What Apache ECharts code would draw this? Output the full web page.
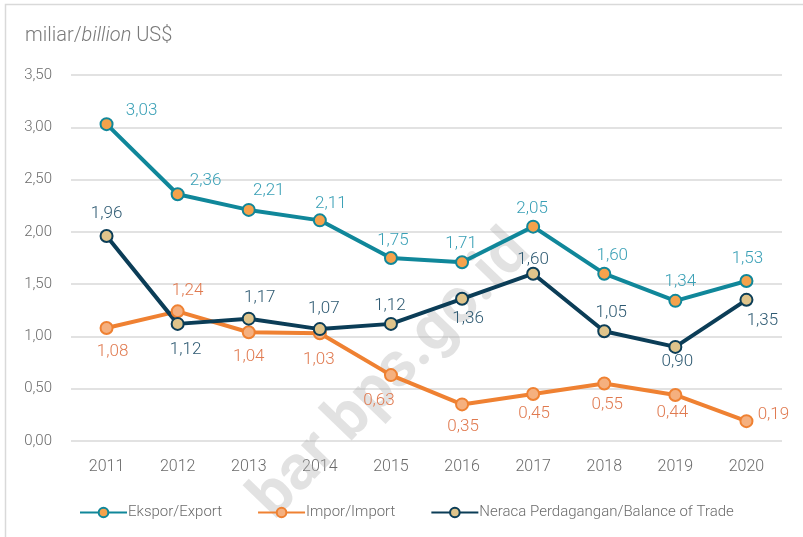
<!DOCTYPE html>
<html>
<head>
<meta charset="utf-8">
<script src="https://cdn.jsdelivr.net/npm/echarts@6/dist/echarts.min.js"></script>
<style>
html,body{margin:0;padding:0;background:#fff;}
#chart{width:803px;height:537px;}
</style>
</head>
<body>
<div id="chart"></div>
<script>
var years = ['2011','2012','2013','2014','2015','2016','2017','2018','2019','2020'];
var ekspor = [3.03, 2.36, 2.21, 2.11, 1.75, 1.71, 2.05, 1.60, 1.34, 1.53];
var impor  = [1.08, 1.24, 1.04, 1.03, 0.63, 0.35, 0.45, 0.55, 0.44, 0.19];
var neraca = [1.96, 1.12, 1.17, 1.07, 1.12, 1.36, 1.60, 1.05, 0.90, 1.35];
var seriesNames = ['Ekspor/Export', 'Impor/Import', 'Neraca Perdagangan/Balance of Trade'];
var yTicks = [0, 0.5, 1, 1.5, 2, 2.5, 3, 3.5];

// label offsets (label centre relative to marker centre), styling only
var eksporLabelOffset = [[35,-13],[28,-13],[20,-19],[11,-17],[2,-17],[-1,-18],[-1,-18],[8,-18],[5,-19],[1,-22]];
var imporLabelOffset  = [[6,24],[10,-21],[0,25],[-1,26],[-12,26],[1,22],[1,20],[3,21],[-3,18],[27,-6]];
var neracaLabelOffset = [[0,-22],[8,26],[11,-21],[4,-20],[-1,-18],[6,20],[0,-14],[7,-18],[2,15],[16,21]];

function fmt(v){ return v.toFixed(2).replace('.', ','); }

function buildData(vals, offs){
  return vals.map(function(v,i){
    return {value: v, label: {offset: offs[i]}};
  });
}

var FONT = 'Roboto';
var chart = echarts.init(document.getElementById('chart'));

function lineSeries(name, vals, offs, lineColor, fillColor, labelColor){
  return {
    name: name,
    type: 'line',
    data: buildData(vals, offs),
    symbol: 'circle',
    symbolSize: 12,
    z: 5,
    lineStyle: {color: lineColor, width: 4},
    itemStyle: {color: fillColor, borderColor: lineColor, borderWidth: 2},
    label: {
      show: true,
      position: 'inside',
      align: 'center',
      verticalAlign: 'middle',
      color: labelColor,
      fontFamily: FONT,
      fontWeight: 300,
      fontSize: 17,
      formatter: function(p){ return fmt(p.value); }
    },
    emphasis: {disabled: true},
    animation: false
  };
}

chart.setOption({
  animation: false,
  grid: {left: 71, right: 21, top: 75, bottom: 96, containLabel: false},
  title: {
    text: '{a|miliar/}{b|billion}{a| US$}',
    left: 20, top: 21,
    textStyle: {
      rich: {
        a: {fontFamily: FONT, fontWeight: 300, fontSize: 20, color: '#7a7a7a'},
        b: {fontFamily: FONT, fontWeight: 300, fontStyle: 'italic', fontSize: 20, color: '#7a7a7a'}
      }
    }
  },
  legend: {
    left: 74, top: 500,
    itemWidth: 47, itemHeight: 12, itemGap: 35,
    data: seriesNames,
    textStyle: {fontFamily: FONT, fontWeight: 300, fontSize: 15, color: '#6b6b6b', padding: [0,0,0,-4]}
  },
  xAxis: {
    type: 'category',
    data: years,
    boundaryGap: true,
    axisLine: {show: false},
    axisTick: {show: false},
    axisLabel: {fontFamily: FONT, fontWeight: 300, fontSize: 16, color: '#6b6b6b', margin: 18}
  },
  yAxis: {
    type: 'value',
    min: yTicks[0], max: yTicks[yTicks.length-1], interval: 0.5,
    axisLine: {show: false},
    axisTick: {show: false},
    splitLine: {lineStyle: {color: '#d9d9d9', width: 1.5}},
    axisLabel: {fontFamily: FONT, fontWeight: 300, fontSize: 15, color: '#6b6b6b', margin: 19,
      formatter: function(v){ return fmt(v); }}
  },
  graphic: [
    {type: 'rect', shape: {x: 5.5, y: 4.5, width: 900, height: 700}, style: {fill: 'none', stroke: '#d9d9d9', lineWidth: 1.5}, silent: true, z: -10},
    {type: 'text', x: 392, y: 376, rotation: 46 * Math.PI / 180, silent: true, z: 1,
      style: {text: 'bar bps.go.id', fontFamily: FONT, fontWeight: 'bold', fontSize: 63,
        fill: 'rgba(180,180,180,0.38)', align: 'center', verticalAlign: 'middle'}}
  ],
  series: [
    lineSeries(seriesNames[0], ekspor, eksporLabelOffset, '#10879a', '#f6a24b', '#3aa0b6'),
    lineSeries(seriesNames[1], impor, imporLabelOffset, '#ef8132', '#f5b07f', '#e07a50'),
    lineSeries(seriesNames[2], neraca, neracaLabelOffset, '#0b3d57', '#dfc48b', '#2e5a72')
  ]
});
</script>
</body>
</html>
